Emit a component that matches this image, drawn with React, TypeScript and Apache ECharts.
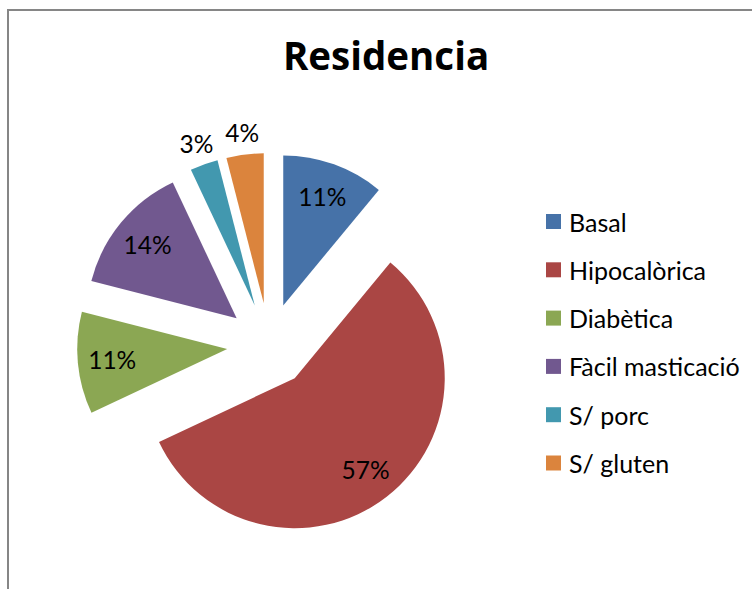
import React, { useEffect, useRef } from "react";
import * as echarts from "echarts";

const categories = ["Basal", "Hipocalòrica", "Diabètica", "Fàcil masticació", "S/ porc", "S/ gluten"];
const values = [11, 57, 11, 14, 3, 4];
const colors = ["#4672A8", "#AA4644", "#8BA753", "#71588F", "#4298AF", "#DB843D"];
const title = "Residencia";

const FONT = "Lato, 'Open Sans', sans-serif";
const CENTER = [269, 345];
const R = 150;
const OFFSET = 42;

export default function App() {
  const ref = useRef<HTMLDivElement>(null);
  useEffect(() => {
    if (!ref.current) return;
    const chart = echarts.init(ref.current, undefined, { renderer: "svg" });
    const mainData = categories.map((name, i) => ({
      name,
      value: values[i],
      selected: true,
      itemStyle: { color: colors[i] },
    }));
    const labelData = (show: (i: number) => boolean) =>
      categories.map((name, i) => ({
        name,
        value: values[i],
        selected: true,
        itemStyle: { color: "rgba(0,0,0,0)" },
        label: { show: show(i) },
      }));
    const labelStyle = {
      position: "inside",
      formatter: "{d}%",
      color: "#000",
      fontFamily: FONT,
      fontSize: 24.5,
    };
    chart.setOption({
      animation: false,
      backgroundColor: "#fff",
      title: {
        text: title,
        left: 386,
        textAlign: "center",
        top: 35,
        padding: 0,
        textStyle: { fontFamily: "'Open Sans', sans-serif", fontWeight: "bold", fontSize: 38.5, color: "#000" },
      },
      legend: {
        orient: "vertical",
        left: 546,
        top: 209,
        padding: 0,
        icon: "rect",
        itemWidth: 15,
        itemHeight: 15,
        itemGap: 23.3,
        data: categories,
        textStyle: { fontFamily: FONT, fontSize: 25, color: "#000", padding: [0, 0, 0, 3] },
        selectedMode: false,
      },
      graphic: [
        {
          type: "rect",
          shape: { x: 8, y: 10, width: 900, height: 900 },
          style: { fill: "none", stroke: "#868686", lineWidth: 2 },
          silent: true,
        },
      ],
      series: [
        {
          type: "pie",
          center: CENTER,
          radius: [0, R],
          selectedMode: "multiple",
          selectedOffset: OFFSET,
          label: { show: false },
          labelLine: { show: false },
          silent: true,
          data: mainData,
        },
        {
          type: "pie",
          center: CENTER,
          radius: [0, R * 1.5],
          selectedMode: "multiple",
          selectedOffset: OFFSET,
          avoidLabelOverlap: false,
          label: labelStyle,
          labelLine: { show: false },
          silent: true,
          legendHoverLink: false,
          data: labelData((i) => i < 4),
        },
        {
          type: "pie",
          center: CENTER,
          radius: [0, R * 2.26],
          selectedMode: "multiple",
          selectedOffset: OFFSET,
          avoidLabelOverlap: false,
          label: labelStyle,
          labelLine: { show: false },
          silent: true,
          legendHoverLink: false,
          data: labelData((i) => i >= 4),
        },
      ],
    });
    return () => chart.dispose();
  }, []);
  return (
    <div
      ref={ref}
      style={{ position: "absolute", left: 0, top: 0, width: 752, height: 589 }}
    />
  );
}
